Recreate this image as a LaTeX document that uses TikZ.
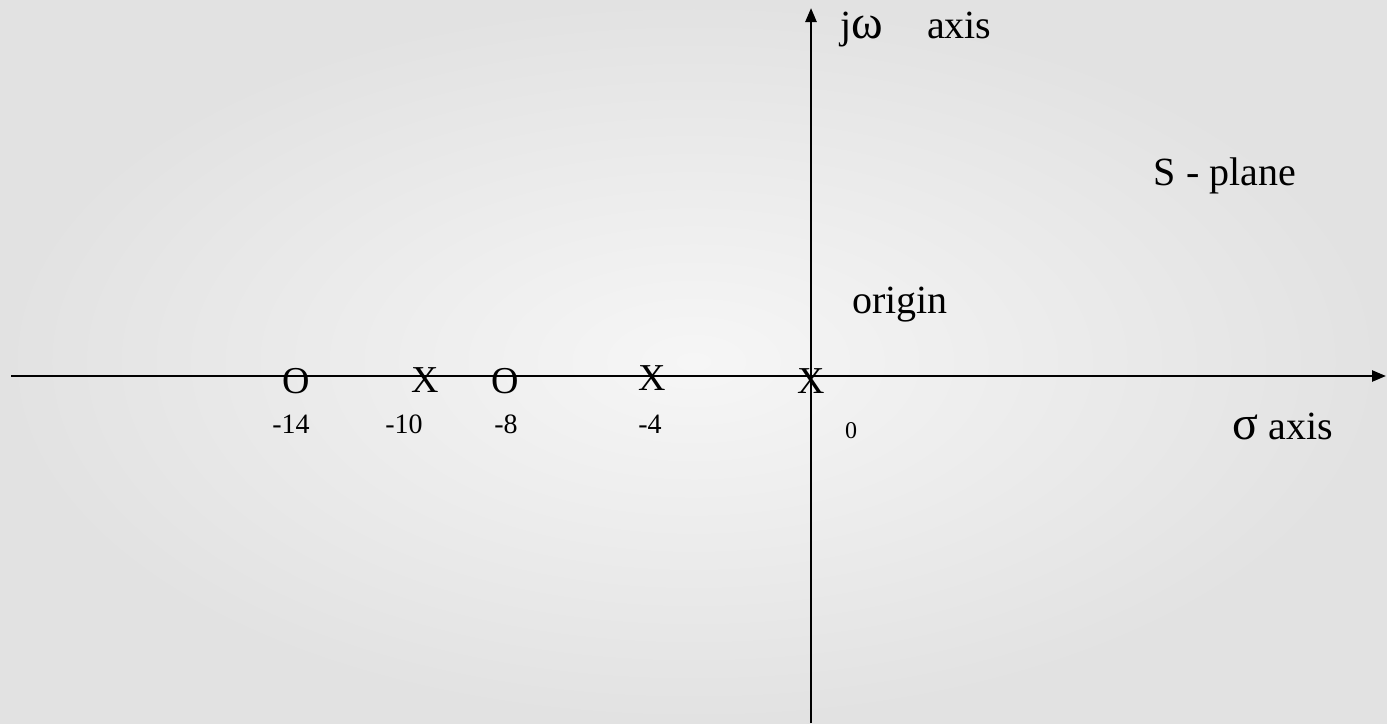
\documentclass[tikz,border=0pt]{standalone}
\usepackage{fontspec}
\setmainfont{Liberation Serif}
\usetikzlibrary{arrows.meta}
\definecolor{bginner}{RGB}{246,246,246}
\definecolor{bgouter}{RGB}{226,226,226}
\newcommand{\bigsym}[1]{{\fontsize{24}{24}\selectfont #1}}
\tikzset{
  axisline/.style={line width=1.25pt, -{Triangle[length=7pt, width=5.5pt]}},
  pole/.style={inner sep=0pt, font=\fontsize{19}{19}\selectfont},
  tick/.style={inner sep=0pt, font=\fontsize{14}{14}\selectfont},
  caption/.style={inner sep=0pt, font=\fontsize{20}{20}\selectfont}
}

\begin{document}
\begin{tikzpicture}[x=0.5pt, y=-0.5pt]
  % background
  \shade[inner color=bginner, outer color=bgouter] (0,0) rectangle (1387,723);
  \useasboundingbox (0,0) rectangle (1387,723);

  % axes
  \coordinate (west) at (11,376);
  \coordinate (east) at (1386,376);
  \coordinate (south) at (811,723);
  \coordinate (north) at (811,8);
  \draw[axisline] (west) -- (east);
  \draw[axisline] (south) -- (north);

  % poles and zeros
  \node[pole] (zero14) at (296,381) {O};
  \node[pole] (pole10) at (425,380) {X};
  \node[pole] (zero8)  at (505,381) {O};
  \node[pole] (pole4)  at (652,378) {X};
  \node[pole] (pole0)  at (811,381) {X};

  % values on the sigma axis
  \node[tick] (val14) at (291,424) {-14};
  \node[tick] (val10) at (404,424) {-10};
  \node[tick] (val8)  at (506,424) {-8};
  \node[tick] (val4)  at (650,424) {-4};
  \node[tick, font=\fontsize{12}{12}\selectfont] (val0) at (851,431) {0};

  % captions
  \node[caption, anchor=base west] (jwaxis) at (840,38) {j\bigsym{ω}\hspace{1.1em}axis};
  \node[caption] (splane) at (1225,176) {S - plane};
  \node[caption] (origin) at (900,305) {origin};
  \node[caption, anchor=base west] (sigaxis) at (1232,439) {\bigsym{σ} axis};
\end{tikzpicture}
\end{document}
